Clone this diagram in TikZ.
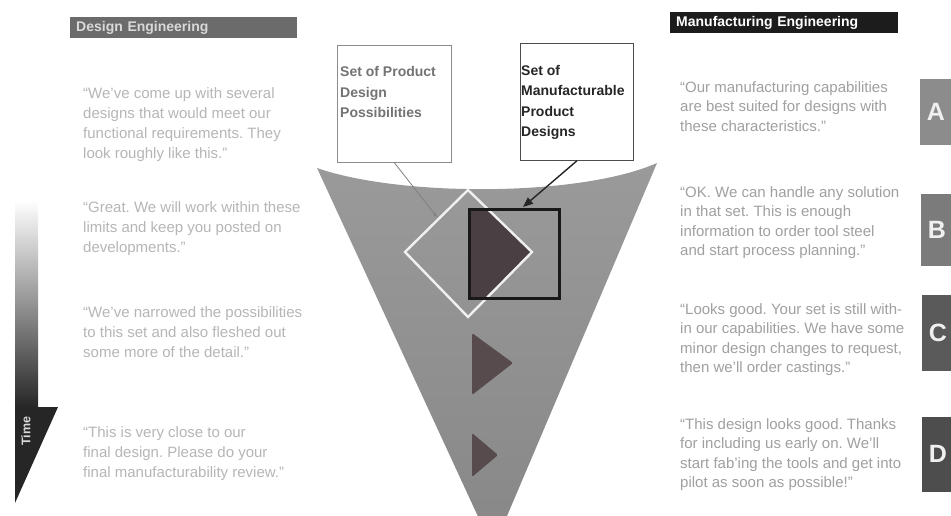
\documentclass[tikz,border=0pt]{standalone}
\usepackage{fontspec}
\setmainfont{Liberation Sans}
\usetikzlibrary{arrows.meta,calc}
\definecolor{quoteL}{HTML}{B6B6B6}
\definecolor{quoteR}{HTML}{A0A0A0}
\definecolor{funtop}{HTML}{9A9A9A}
\definecolor{funbot}{HTML}{878787}
\definecolor{darktri}{HTML}{574B4E}
\definecolor{darksq}{HTML}{4A3F42}
\definecolor{timedark}{HTML}{262626}
\definecolor{hdrL}{HTML}{6B6B6B}
\definecolor{hdrR}{HTML}{1C1C1C}
\definecolor{boxA}{HTML}{8C8C8C}
\definecolor{boxB}{HTML}{7B7B7B}
\definecolor{boxC}{HTML}{5A5A5A}
\definecolor{boxD}{HTML}{4D4D4D}
\frenchspacing
\begin{document}
\begin{tikzpicture}[x=1pt,y=-1pt,
  quoteleft/.style={anchor=north west, inner sep=0pt, align=left, text=quoteL, font=\fontsize{15}{20}\selectfont},
  quoteright/.style={anchor=north west, inner sep=0pt, align=left, text=quoteR, font=\fontsize{15}{19.5}\selectfont},
  header/.style={anchor=north west, inner sep=0pt, minimum height=21pt, font=\bfseries\fontsize{14}{14}\selectfont},
  labelbox/.style={anchor=north west, draw, line width=0.8pt, fill=white, inner sep=0pt, minimum width=114pt, minimum height=117pt},
  labeltext/.style={anchor=north west, inner sep=0pt, align=left, font=\bfseries\fontsize{14}{20.5}\selectfont},
  letterbox/.style={inner sep=0pt, minimum width=32pt, text=white!94!black, font=\bfseries\fontsize{25}{25}\selectfont},
  darkfill/.style={fill=darktri, rounded corners=1.5pt}
]
\useasboundingbox (0,0) rectangle (951,515);
\fill[white] (0,0) rectangle (951,515);
\clip (0,0) rectangle (951,515);

% ---------- time arrow ----------
\shade[top color=white, bottom color=timedark] (15,200) rectangle (38,408);
\fill[timedark] (15,407) -- (58,407) -- (15,503) -- cycle;
\node[rotate=90, text=white!85!black, inner sep=0pt, font=\bfseries\fontsize{12.5}{12.5}\selectfont] (time) at (26,431) {Time};

% ---------- headers ----------
\node[header, fill=hdrL, minimum width=227pt, text=white!85!black, text width=215pt, align=left] (dh) at (70,17) {Design Engineering};
\node[header, fill=hdrR, minimum width=228pt, text=white, text width=216pt, align=left] (mh) at (670,12) {Manufacturing Engineering};

% ---------- left quotes ----------
\node[quoteleft] (l1) at (83,87) {“We’ve come up with several\\designs that would meet our\\functional requirements. They\\look roughly like this.”};
\node[quoteleft] (l2) at (83,201) {“Great. We will work within these\\limits and keep you posted on\\developments.”};
\node[quoteleft] (l3) at (83,306) {“We’ve narrowed the possibilities\\to this set and also fleshed out\\some more of the detail.”};
\node[quoteleft] (l4) at (83,426) {“This is very close to our\\final design. Please do your\\final manufacturability review.”};

% ---------- right quotes ----------
\node[quoteright] (r1) at (680,81) {“Our manufacturing capabilities\\are best suited for designs with\\these characteristics.”};
\node[quoteright] (r2) at (680,186) {“OK. We can handle any solution\\in that set. This is enough\\information to order tool steel\\and start process planning.”};
\node[quoteright] (r3) at (680,303) {“Looks good. Your set is still with-\\in our capabilities. We have some\\minor design changes to request,\\then we’ll order castings.”};
\node[quoteright] (r4) at (680,418) {“This design looks good. Thanks\\for including us early on. We’ll\\start fab’ing the tools and get into\\pilot as soon as possible!”};

% ---------- letter boxes ----------
\node[letterbox, fill=boxA, minimum height=66pt] (la) at (936,112) {A};
\node[letterbox, fill=boxB, minimum height=72pt] (lb) at (937,230) {B};
\node[letterbox, fill=boxC, minimum height=76pt] (lc) at (938,333) {C};
\node[letterbox, fill=boxD, minimum height=75pt] (ld) at (938,454) {D};

% ---------- funnel ----------
\shade[top color=funtop, bottom color=funbot]
  (317,168) .. controls (400,197) and (580,197) .. (657,163) -- (493,549) -- cycle;

% dark triangles
\fill[darkfill, fill=darksq] (468,208) -- (486,208) -- (531,252) -- (488,297) -- (468,297) -- cycle;
\fill[darkfill] (472,333) -- (513,363) -- (472,395) -- cycle;
\fill[darkfill] (472,433) -- (498,455) -- (472,477) -- cycle;

% white diamond
\coordinate (dt) at (468,190);
\coordinate (dr) at (532,252);
\coordinate (db) at (468,317);
\coordinate (dl) at (405,252);
\draw[white!94!black, line width=2.4pt, line join=miter] (dt) -- (dr) -- (db) -- (dl) -- cycle;

% black square
\node[draw=black!90, line width=2.6pt, inner sep=0pt, minimum width=90pt, minimum height=89pt, anchor=north west] (sq) at (468,208) {};

% ---------- label boxes ----------
\node[labelbox, draw=black!45] (b1) at (337,45) {};
\node[labeltext, text=black!55] (t1) at ($(b1.north west)+(3,21.5)$) {Set of Product\\Design\\Possibilities};
\node[labelbox, draw=black!70, minimum width=113pt] (b2) at (520,43) {};
\node[labeltext, text=black!85] (t2) at ($(b2.north west)+(1,22)$) {Set of\\Manufacturable\\Product\\Designs};

% ---------- connectors ----------
\coordinate (c1) at (437,217);
\coordinate (c2) at (523,207);
\draw[black!50, line width=0.8pt, -{Stealth[length=5pt,width=3.5pt]}] (b1.south) -- (c1);
\draw[black!85, line width=1.4pt, -{Triangle[length=10pt,width=8pt]}] (b2.south) -- (c2);
\end{tikzpicture}
\end{document}
